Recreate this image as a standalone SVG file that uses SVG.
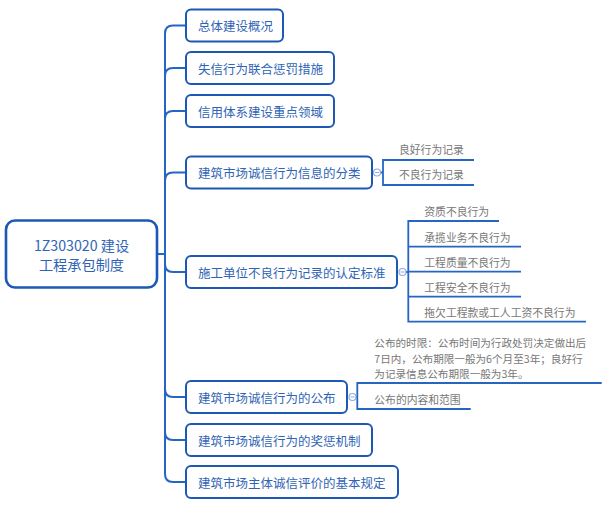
<svg xmlns="http://www.w3.org/2000/svg" width="607" height="508" viewBox="0 0 607 508">
<style>
text{font-family:"Noto Sans CJK SC","Noto Sans",sans-serif;dominant-baseline:central}
.root{fill:#fff;stroke:#1d59b4;stroke-width:2.6}
.box{fill:#fff;stroke:#1d59b4;stroke-width:2}
.nt{font-size:12.5px;fill:#2f64b5}
.rt{font-size:14.2px;fill:#2f64b5}
.st{font-size:10.8px;fill:#777}
.ml{font-size:10.6px;fill:#777}
.ln{fill:none;stroke:#2466c2;stroke-width:2}
.ul{fill:none;stroke:#2466c2;stroke-width:1.8}
.tg{fill:#fff;stroke:#8eaee0;stroke-width:1.2}
.tm{stroke:#8eaee0;stroke-width:1}
</style>
<g id="connectors">
<path class="ln" d="M157,254 H165"/>
<path class="ln" d="M165,254 V33.5 Q165,25.5 173,25.5 H186"/>
<path class="ln" d="M165,254 V76 Q165,68 173,68 H186"/>
<path class="ln" d="M165,254 V119 Q165,111 173,111 H186"/>
<path class="ln" d="M165,254 V180.5 Q165,172.5 173,172.5 H186"/>
<path class="ln" d="M165,254 V264 Q165,272 173,272 H186"/>
<path class="ln" d="M165,254 V389 Q165,397 173,397 H186"/>
<path class="ln" d="M165,254 V432 Q165,440 173,440 H186"/>
<path class="ln" d="M165,254 V474 Q165,482 173,482 H186"/>
<path class="ul" d="M380.5,172.5 H383 M474,160 H383 V185 H474"/>
<path class="ul" d="M406,272 H408.3 M499,221 H408.3 V321.7 H586 M408.3,246.7 H521 M408.3,271.7 H521 M408.3,296.7 H521"/>
<path class="ul" d="M356,397 H357.3 M601.7,383 H357.3 V409 H470.7"/>
</g>
<g id="root">
<rect class="root" x="6" y="220.5" width="151" height="67" rx="9"/>
<text class="rt" x="81.5" y="245" text-anchor="middle">1Z303020 建设</text>
<text class="rt" x="81.5" y="263.5" text-anchor="middle">工程承包制度</text>
</g>
<g id="n1"><rect class="box" x="186" y="9.5" width="97" height="32" rx="5"/><text class="nt" x="198" y="25.5">总体建设概况</text></g>
<g id="n2"><rect class="box" x="186" y="52" width="148" height="32" rx="5"/><text class="nt" x="198" y="68">失信行为联合惩罚措施</text></g>
<g id="n3"><rect class="box" x="186" y="95" width="148" height="32" rx="5"/><text class="nt" x="198" y="111">信用体系建设重点领域</text></g>
<g id="n4"><rect class="box" x="186" y="156.5" width="186" height="32" rx="5"/><text class="nt" x="198" y="172.5">建筑市场诚信行为信息的分类</text>
<circle class="tg" cx="377" cy="172.5" r="3.5"/><path class="tm" d="M375,172.5 H379"/></g>
<g id="n4a"><text class="st" x="399" y="149">良好行为记录</text></g>
<g id="n4b"><text class="st" x="399" y="174">不良行为记录</text></g>
<g id="n5"><rect class="box" x="186" y="256" width="211" height="32" rx="5"/><text class="nt" x="198" y="272">施工单位不良行为记录的认定标准</text>
<circle class="tg" cx="402.5" cy="272" r="3.5"/><path class="tm" d="M400.5,272 H404.5"/></g>
<g id="n5a"><text class="st" x="424.3" y="211">资质不良行为</text></g>
<g id="n5b"><text class="st" x="424.3" y="236.5">承揽业务不良行为</text></g>
<g id="n5c"><text class="st" x="424.3" y="261.5">工程质量不良行为</text></g>
<g id="n5d"><text class="st" x="424.3" y="286.5">工程安全不良行为</text></g>
<g id="n5e"><text class="st" x="424.3" y="311.5">拖欠工程款或工人工资不良行为</text></g>
<g id="n6"><rect class="box" x="186" y="381" width="161" height="32" rx="5"/><text class="nt" x="198" y="397">建筑市场诚信行为的公布</text>
<circle class="tg" cx="352.5" cy="397" r="3.5"/><path class="tm" d="M350.5,397 H354.5"/></g>
<g id="n6a"><text class="ml"><tspan x="374.3" y="342.2">公布的时限：公布时间为行政处罚决定做出后</tspan><tspan x="374.3" y="357.7">7日内，公布期限一般为6个月至3年；良好行</tspan><tspan x="374.3" y="373.2">为记录信息公布期限一般为3年。</tspan></text></g>
<g id="n6b"><text class="st" x="374.3" y="399">公布的内容和范围</text></g>
<g id="n7"><rect class="box" x="186" y="424" width="186" height="32" rx="5"/><text class="nt" x="198" y="440">建筑市场诚信行为的奖惩机制</text></g>
<g id="n8"><rect class="box" x="186" y="466" width="212" height="32" rx="5"/><text class="nt" x="198" y="482">建筑市场主体诚信评价的基本规定</text></g>
</svg>
